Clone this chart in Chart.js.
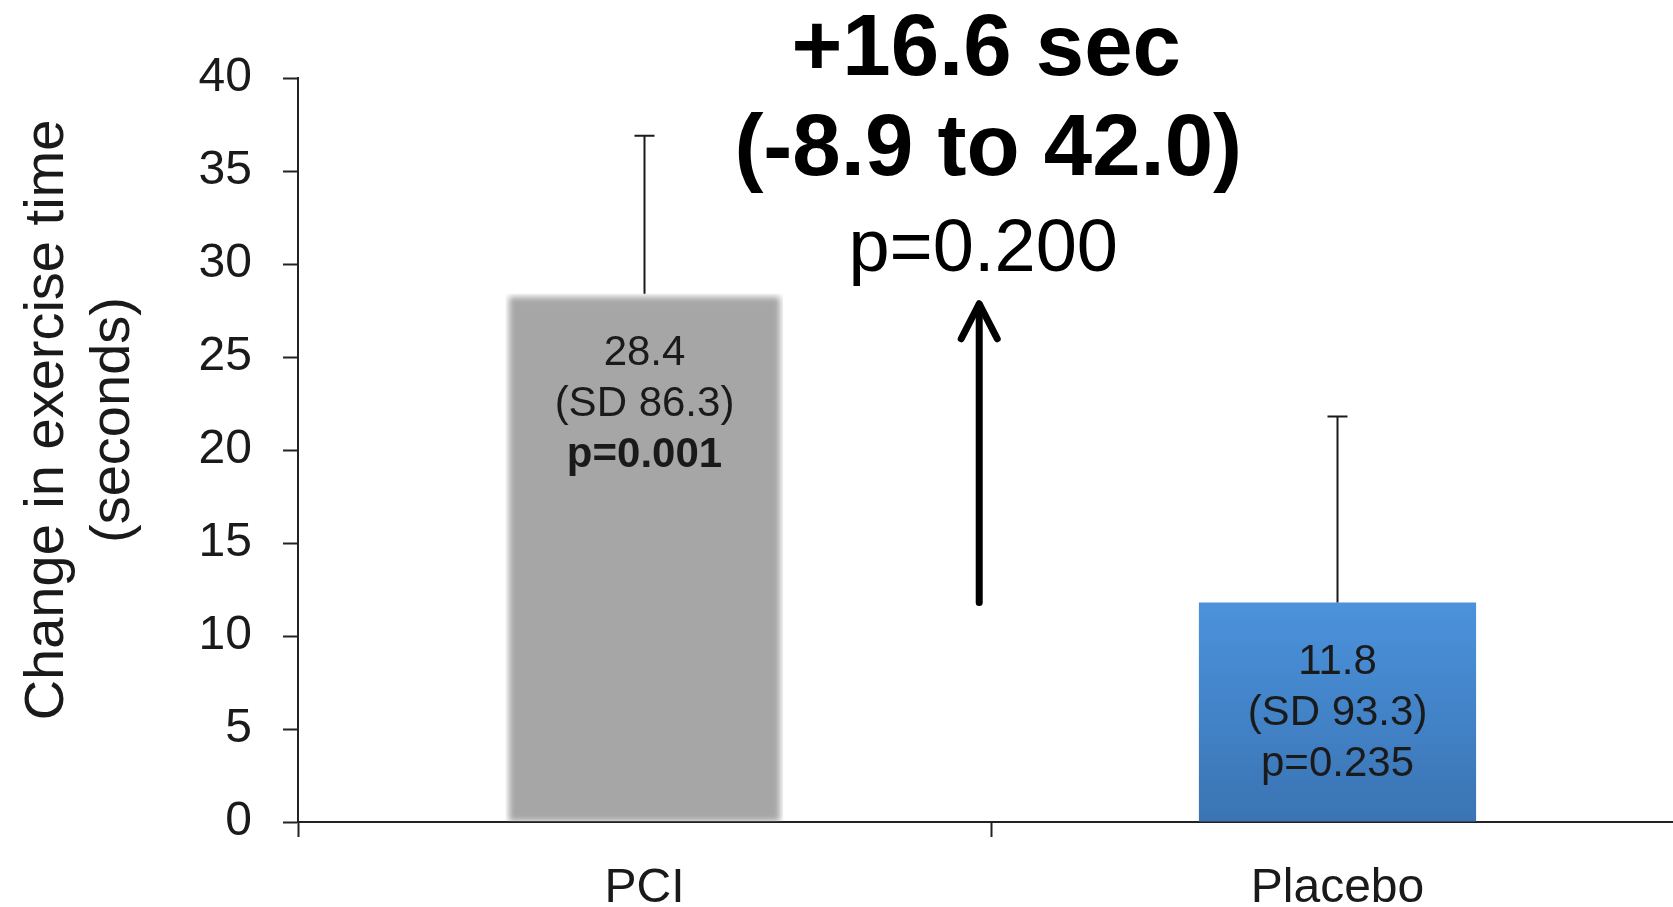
<!DOCTYPE html>
<html>
<head>
<meta charset="utf-8">
<script src="https://cdn.jsdelivr.net/npm/chart.js@4/dist/chart.umd.min.js"></script>
<style>
  html, body { margin: 0; padding: 0; background: #fff; overflow: hidden; }
  #wrap { width: 1700px; height: 907px; }
</style>
</head>
<body>
<div id="wrap"><canvas id="chart" width="1700" height="907"></canvas></div>
<script>
// chart data
const categories = ['PCI', 'Placebo'];
const changeValues = [28.4, 11.8];
const errorValues = [8.5, 10.0];
const meanLabels = ['28.4', '11.8'];
const sdLabels = ['(SD 86.3)', '(SD 93.3)'];
const pLabels = ['p=0.001', 'p=0.235'];
const pBold = [true, false];
const yMin = 0;
const yMax = 40;
const yStep = 5;
const yTitle = ['Change in exercise time', '(seconds)'];
const diffLines = ['+16.6 sec', '(-8.9 to 42.0)', 'p=0.200'];

const FONT = "'Liberation Sans', Arial, sans-serif";
const INK = '#1a1a1a';

// placebo bar: blue vertical gradient
let placeboColor = (ctx) => {
	let { chart } = ctx;
	let yScale = chart.scales.y;
	if (!yScale) { return '#4589d0'; }
	let top = yScale.getPixelForValue(changeValues[1]);
	let bottom = yScale.getPixelForValue(0);
	if (!Number.isFinite(top) || !Number.isFinite(bottom) || top === bottom) { return '#4589d0'; }
	let grad = chart.ctx.createLinearGradient(0, top, 0, bottom);
	grad.addColorStop(0, '#4b92dc');
	grad.addColorStop(1, '#3a74b3');
	return grad;
};

// one dataset per category so each bar can be styled on its own
let datasets = categories.map((cat, i) => ({
	label: cat,
	data: categories.map((_, j) => (j === i ? changeValues[i] : null)),
	backgroundColor: i === 0 ? '#a6a6a6' : placeboColor,
	borderColor: 'rgba(0,0,0,0)',
	borderWidth: i === 0 ? 3 : 0,
	barPercentage: 0.4,
	categoryPercentage: 1.0,
	softEdge: i === 0,
}));

// soft edges on the grey bar
let softEdges = {
	id: 'softEdges',
	beforeDatasetDraw (chart, args) {
		if (chart.data.datasets[args.index].softEdge) {
			chart.ctx.save();
			chart.ctx.filter = 'blur(3px)';
		}
	},
	afterDatasetDraw (chart, args) {
		if (chart.data.datasets[args.index].softEdge) {
			chart.ctx.restore();
		}
	},
};

// each category's bar element
let barFor = (chart, i) => chart.getDatasetMeta(i).data[i];

// error bars (upper only)
let errorBars = {
	id: 'errorBars',
	afterDatasetsDraw (chart) {
		let { ctx } = chart;
		let yScale = chart.scales.y;
		ctx.save();
		ctx.strokeStyle = INK;
		ctx.lineWidth = 2;
		categories.forEach((_, i) => {
			let bar = barFor(chart, i);
			let yBase = yScale.getPixelForValue(changeValues[i]);
			let yTop = yScale.getPixelForValue(changeValues[i] + errorValues[i]);
			ctx.beginPath();
			ctx.moveTo(bar.x, yBase);
			ctx.lineTo(bar.x, yTop);
			ctx.moveTo(bar.x - 10, yTop);
			ctx.lineTo(bar.x + 10, yTop);
			ctx.stroke();
		});
		ctx.restore();
	},
};

// text inside the bars
let barLabels = {
	id: 'barLabels',
	afterDatasetsDraw (chart) {
		let { ctx } = chart;
		let yScale = chart.scales.y;
		ctx.save();
		ctx.fillStyle = INK;
		ctx.textAlign = 'center';
		ctx.textBaseline = 'middle';
		categories.forEach((_, i) => {
			let bar = barFor(chart, i);
			let top = yScale.getPixelForValue(changeValues[i]);
			ctx.font = `42px ${FONT}`;
			ctx.fillText(meanLabels[i], bar.x, top + 60);
			ctx.fillText(sdLabels[i], bar.x, top + 111);
			ctx.font = `${pBold[i] ? 'bold ' : ''}42px ${FONT}`;
			ctx.fillText(pLabels[i], bar.x, top + 162);
		});
		ctx.restore();
	},
};

// rotated two-line y axis title
let yAxisTitle = {
	id: 'yAxisTitle',
	afterDraw (chart) {
		let { ctx } = chart;
		ctx.save();
		ctx.translate(0, 420);
		ctx.rotate(-Math.PI / 2);
		ctx.fillStyle = INK;
		ctx.textAlign = 'center';
		ctx.textBaseline = 'middle';
		ctx.font = `56px ${FONT}`;
		ctx.fillText(yTitle[0], 0, 48);
		ctx.fillText(yTitle[1], 0, 114);
		ctx.restore();
	},
};

// difference arrow + annotation
let diffAnnotation = {
	id: 'diffAnnotation',
	afterDraw (chart) {
		let { ctx } = chart;
		let xScale = chart.scales.x;
		let yScale = chart.scales.y;
		let x = xScale.getPixelForValue(0.483);
		let yFrom = yScale.getPixelForValue(changeValues[1]);
		let yTo = yScale.getPixelForValue(changeValues[0]) + 8;

		ctx.save();
		ctx.strokeStyle = '#000';
		ctx.lineWidth = 7;
		ctx.lineCap = 'round';
		ctx.lineJoin = 'round';
		ctx.beginPath();
		ctx.moveTo(x, yFrom);
		ctx.lineTo(x, yTo + 3);
		ctx.stroke();
		ctx.beginPath();
		ctx.moveTo(x - 18, yTo + 37);
		ctx.lineTo(x, yTo + 2);
		ctx.lineTo(x + 18, yTo + 37);
		ctx.stroke();

		ctx.fillStyle = '#000';
		ctx.textAlign = 'center';
		ctx.textBaseline = 'alphabetic';
		ctx.font = `bold 87px ${FONT}`;
		ctx.fillText(diffLines[0], x + 7, 75);
		ctx.fillText(diffLines[1], x + 9, 175);
		ctx.font = `74px ${FONT}`;
		ctx.fillText(diffLines[2], x + 4, 271);
		ctx.restore();
	},
};

new Chart(document.getElementById('chart'), {
	type: 'bar',
	data: {
		labels: categories,
		datasets: datasets,
	},
	options: {
		responsive: false,
		animation: false,
		skipNull: true,
		datasets: { bar: { grouped: false } },
		layout: { padding: { top: 78, right: 16, left: 0, bottom: 0 } },
		plugins: {
			legend: { display: false },
			tooltip: { enabled: false },
		},
		scales: {
			x: {
				afterFit (scale) { scale.height = 85; },
				grid: {
					offset: true,
					drawOnChartArea: false,
					drawTicks: true,
					tickLength: 15,
					tickWidth: 2,
					tickColor: '#222',
				},
				border: { display: true, color: '#222', width: 2 },
				ticks: {
					color: INK,
					padding: 23,
					font: { family: FONT, size: 48 },
				},
			},
			y: {
				min: yMin,
				max: yMax,
				afterFit (scale) { scale.width = 298; },
				grid: {
					drawOnChartArea: false,
					drawTicks: true,
					tickLength: 15,
					tickWidth: 2,
					tickColor: '#222',
				},
				border: { display: true, color: '#222', width: 2 },
				ticks: {
					stepSize: yStep,
					color: INK,
					padding: 31,
					font: { family: FONT, size: 48 },
				},
			},
		},
	},
	plugins: [ softEdges, errorBars, barLabels, yAxisTitle, diffAnnotation ],
});
</script>
</body>
</html>
